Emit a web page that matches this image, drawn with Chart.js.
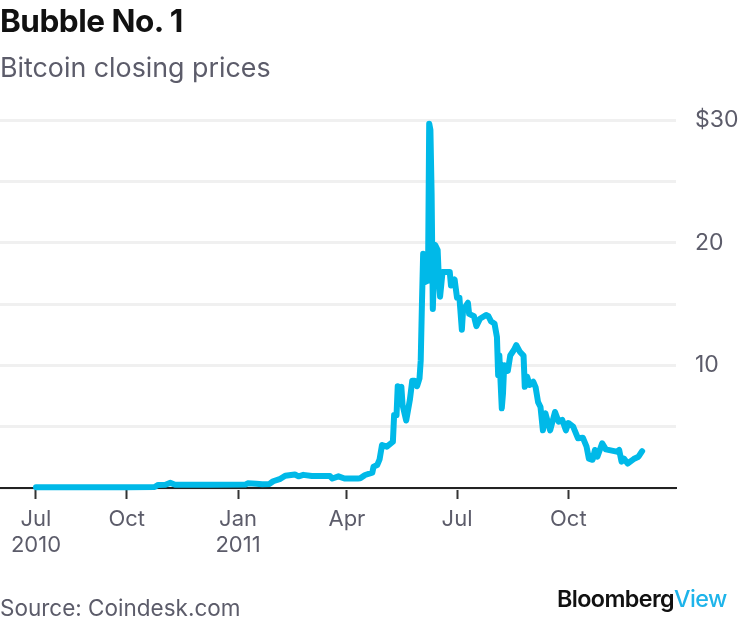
<!DOCTYPE html>
<html>
<head>
<meta charset="utf-8">
<title>Bubble No. 1</title>
<script src="https://cdn.jsdelivr.net/npm/chart.js@4"></script>
<style>
  html, body { margin: 0; padding: 0; background: #fff; }
  #wrap { position: relative; width: 740px; height: 623px; overflow: hidden; font-family: Inter, sans-serif; }
  #myChart { position: absolute; left: 0; top: 0; }
  .txt { position: absolute; white-space: nowrap; color: #5c5c6a; }
  #title { left: 0; top: 1px; font-size: 31.5px; font-weight: 700; color: #111; letter-spacing: -0.5px; }
  #subtitle { left: 0; top: 51px; font-size: 26.8px; }
  #source { left: 0; top: 594px; font-size: 22.5px; }
  #logo { left: 557px; top: 584px; font-size: 23.3px; font-weight: 600; color: #111; letter-spacing: -0.6px; }
  #logo span { color: #1eb4ea; font-weight: 500; }
</style>
</head>
<body>
<div id="wrap">
  <canvas id="myChart" width="740" height="623"></canvas>
  <div class="txt" id="title">Bubble No. 1</div>
  <div class="txt" id="subtitle">Bitcoin closing prices</div>
  <div class="txt" id="source">Source: Coindesk.com</div>
  <div class="txt" id="logo">Bloomberg<span>View</span></div>
</div>
<script>
// days since Jul 18 2010, first point of the series
const days = [0, 36, 75, 98, 101, 107, 111, 115, 144, 173, 175, 182, 187, 193, 196, 202, 206, 214, 217, 221, 228, 243, 245, 250, 255, 266,
  268, 272, 278, 279, 282, 284, 286, 290, 295, 296, 298, 299, 301, 302, 303, 306, 309, 311, 313, 315, 317, 318, 319, 320, 321, 322, 323, 324,
  325, 326, 327, 328, 329, 330, 332, 333, 334, 336, 342, 343, 346, 348, 350, 352, 353, 357, 358, 362, 364, 367, 372, 374, 376, 379, 381,
  382, 383, 385, 386, 387, 390, 392, 395, 397, 400, 403, 404, 406, 408, 411, 413, 415, 417, 419, 421, 423, 425, 429, 432, 435, 438, 440,
  444, 448, 452, 455, 457, 460, 462, 464, 468, 471, 480, 482, 484, 486, 489, 494, 498, 501];

// closing price in dollars
const prices = [0.06, 0.06, 0.06, 0.08, 0.25, 0.27, 0.42, 0.27, 0.26, 0.28, 0.38, 0.34, 0.3, 0.33, 0.55, 0.75, 1.0, 1.1, 0.95, 1.07, 0.98, 0.97, 0.77, 0.95, 0.77, 0.77,
  0.79, 1.06, 1.25, 1.74, 1.87, 2.34, 3.5, 3.37, 3.77, 5.95, 5.95, 8.3, 8.1, 8.25, 6.76, 5.5, 7.17, 8.75, 8.75, 8.3, 8.94, 10.4, 15, 19.1, 19, 16.8, 18, 16.9,
  29.7, 29.2, 24, 14.6, 17.5, 19.8, 19.4, 17, 15.6, 17.6, 17.6, 16.5, 17, 15.5, 15.5, 12.9, 14.5, 15.1, 14.2, 14, 13.2, 13.8, 14.1, 14, 13.6, 13.4, 12.3,
  9.2, 10.8, 6.5, 7.7, 10, 9.55, 10.8, 11.25, 11.65, 11.1, 10.8, 8.25, 9.07, 8.4, 8.66, 8.2, 7.0, 6.6, 4.7, 6.1, 5.4, 4.7, 6.2, 5.4, 5.55, 4.7, 5.3,
  5.0, 4.05, 4.1, 3.4, 2.4, 2.3, 3.1, 2.55, 3.64, 3.15, 2.96, 3.1, 2.15, 2.4, 2.0, 2.36, 2.55, 3.0];

const tickDays = [0, 75, 167, 257, 348, 440];
const tickLabels = [['Jul', '2010'], 'Oct', ['Jan', '2011'], 'Apr', 'Jul', 'Oct'];
const priceLabels = { 30: '$30', 20: '20', 10: '10' };

const textColor = '#5c5c6a';
const ctx = document.getElementById('myChart').getContext('2d');

new Chart(ctx, {
    type: 'line',
    data: {
        datasets: [{
            data: days.map((d, i) => ({ x: d, y: prices[i] })),
            borderColor: '#00b9e8',
            borderWidth: 6,
            borderJoinStyle: 'round',
            borderCapStyle: 'round',
            pointRadius: 0,
            tension: 0,
            clip: false
        }]
    },
    options: {
        responsive: false,
        animation: false,
        layout: { padding: { top: 120, bottom: 66 } },
        plugins: { legend: { display: false }, tooltip: { enabled: false } },
        scales: {
            x: {
                type: 'linear',
                min: -29.75,
                max: 529,
                afterBuildTicks: scale => { scale.ticks = tickDays.map(v => ({ value: v })); },
                afterFit: scale => { scale.height = 69; },
                border: { color: '#222', width: 2 },
                grid: { drawOnChartArea: false, drawTicks: true, tickLength: 11, tickColor: '#333', tickWidth: 2 },
                ticks: {
                    autoSkip: false,
                    maxRotation: 0,
                    padding: 7,
                    color: textColor,
                    font: { family: 'Inter', size: 22, lineHeight: 1.18 },
                    callback: v => tickLabels[tickDays.indexOf(v)]
                }
            },
            y: {
                position: 'right',
                min: 0,
                max: 30,
                afterFit: scale => { scale.width = 64; },
                border: { display: false },
                grid: { color: '#f0f0f0', lineWidth: 3, drawTicks: false },
                ticks: {
                    stepSize: 5,
                    padding: 19,
                    color: textColor,
                    font: { family: 'Inter', size: 23 },
                    callback: v => priceLabels[v] || ''
                }
            }
        }
    }
});
</script>
</body>
</html>
